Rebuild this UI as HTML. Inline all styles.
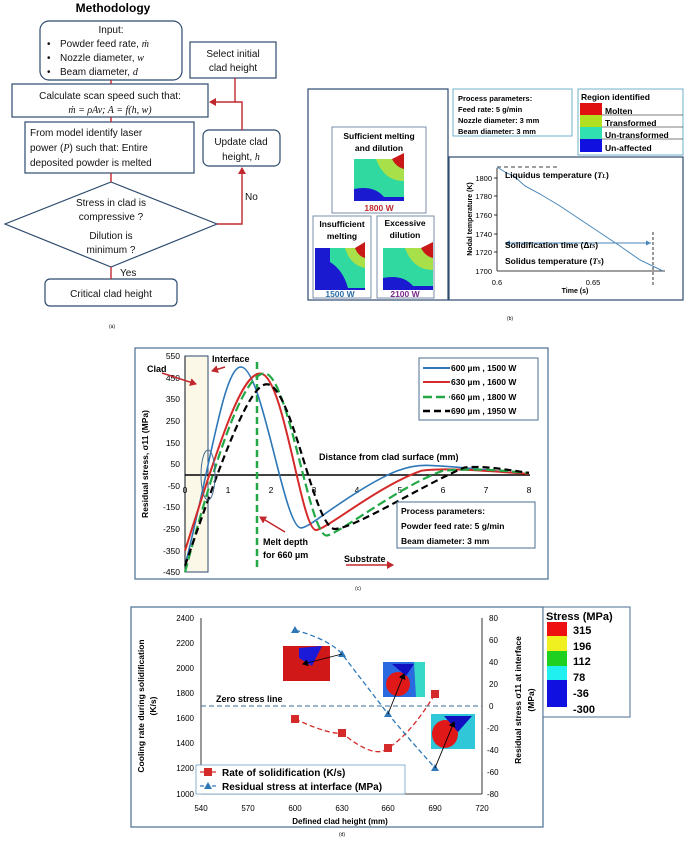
<!DOCTYPE html>
<html><head><meta charset="utf-8"><style>
body{margin:0;background:#fff;}
svg{display:block;font-family:"Liberation Sans",sans-serif;}
</style></head><body>
<svg width="685" height="841" viewBox="0 0 685 841" xmlns="http://www.w3.org/2000/svg">
<defs>
<marker id="ra" markerWidth="8" markerHeight="8" refX="6" refY="4" orient="auto" markerUnits="userSpaceOnUse"><path d="M0,0 L7,4 L0,8 z" fill="#c0282e"/></marker>
<marker id="ka" markerWidth="7" markerHeight="7" refX="5" refY="3.5" orient="auto" markerUnits="userSpaceOnUse"><path d="M0,0 L6,3.5 L0,7 z" fill="#000"/></marker>
<g id="sim">
<rect x="0" y="0" width="50" height="42" fill="#2fd9a0"/>
<path d="M22,0 L50,0 L50,22 Q30,22 22,0z" fill="#a8e04a"/>
<path d="M38,0 L50,-6 L50,10 Q42,8 38,0z" fill="#c81818"/>
<path d="M0,30 Q20,26 30,38 L50,38 L50,42 L0,42z" fill="#1a1ad0"/>
</g>
</defs>

<!-- ===== Panel (a) ===== -->
<text x="113" y="12" font-size="12" font-weight="bold" text-anchor="middle">Methodology</text>
<g fill="none" stroke="#2e4a6e" stroke-width="1.2">
<rect x="40" y="21" width="142" height="59" rx="9"/>
<rect x="190" y="42" width="86" height="36"/>
<rect x="12" y="84" width="196" height="33"/>
<rect x="25" y="122" width="169" height="51"/>
<rect x="203" y="130" width="77" height="36" rx="6"/>
<path d="M111,182 L217,224 L111,267 L5,224 Z"/>
<rect x="45" y="279" width="132" height="27" rx="5"/>
</g>
<g font-size="10" fill="#111">
<text x="111" y="33" text-anchor="middle">Input:</text>
<text x="47" y="47">•</text><text x="60" y="47">Powder feed rate, <tspan font-style="italic" font-family="Liberation Serif">ṁ</tspan></text>
<text x="47" y="61">•</text><text x="60" y="61">Nozzle diameter, <tspan font-style="italic" font-family="Liberation Serif">w</tspan></text>
<text x="47" y="75">•</text><text x="60" y="75">Beam diameter, <tspan font-style="italic" font-family="Liberation Serif">d</tspan></text>
<text x="233" y="57" text-anchor="middle">Select initial</text>
<text x="233" y="71" text-anchor="middle">clad height</text>
<text x="110" y="99" text-anchor="middle">Calculate scan speed such that:</text>
<text x="110" y="113" text-anchor="middle" font-family="Liberation Serif" font-style="italic">ṁ = ρAv; A = f(h, w)</text>
<text x="30" y="136">From model identify laser</text>
<text x="30" y="151">power (<tspan font-style="italic" font-family="Liberation Serif">P</tspan>) such that: Entire</text>
<text x="30" y="166">deposited powder is melted</text>
<text x="241" y="145" text-anchor="middle">Update clad</text>
<text x="241" y="160" text-anchor="middle">height, <tspan font-style="italic" font-family="Liberation Serif">h</tspan></text>
<text x="111" y="206" text-anchor="middle">Stress in clad is</text>
<text x="111" y="220" text-anchor="middle">compressive ?</text>
<text x="111" y="239" text-anchor="middle">Dilution is</text>
<text x="111" y="253" text-anchor="middle">minimum ?</text>
<text x="111" y="297" text-anchor="middle">Critical clad height</text>
<text x="245" y="200">No</text>
<text x="120" y="276">Yes</text>
</g>
<g stroke="#c0282e" stroke-width="1.4" fill="none">
<line x1="111" y1="80" x2="111" y2="84"/>
<line x1="111" y1="117" x2="111" y2="122"/>
<line x1="111" y1="173" x2="111" y2="182"/>
<line x1="111" y1="267" x2="111" y2="279"/>
<path d="M217,224 L242,224 L242,168" marker-end="url(#ra)"/>
<path d="M242,130 L242,102 L210,102" marker-end="url(#ra)"/>
<line x1="235" y1="78" x2="235" y2="102"/>
</g>
<text x="112" y="328" font-size="5" text-anchor="middle">(a)</text>

<!-- ===== Panel (b) ===== -->
<g fill="none" stroke="#2e4a6e" stroke-width="1.2">
<rect x="308" y="89" width="140" height="211"/>
<rect x="449" y="157" width="234" height="143"/>
</g>
<g fill="#fff" stroke="#7a8ea8" stroke-width="1">
<rect x="332" y="127" width="94" height="86"/>
<rect x="313" y="216" width="58" height="82"/>
<rect x="377" y="216" width="57" height="82"/>
<rect x="453" y="89" width="119" height="47" stroke="#6fb0c8"/>
<rect x="578" y="89" width="105" height="66" stroke="#6fb0c8"/>
</g>
<g font-size="8.5" font-weight="bold" text-anchor="middle">
<text x="379" y="139">Sufficient melting</text>
<text x="379" y="151">and dilution</text>
<text x="342" y="227">Insufficient</text>
<text x="342" y="239">melting</text>
<text x="405" y="226">Excessive</text>
<text x="405" y="238">dilution</text>
<text x="379" y="211" fill="#c0282e">1800 W</text>
<text x="340" y="297" fill="#2e6fa8">1500 W</text>
<text x="405" y="297" fill="#7a2a8a">2100 W</text>
</g>
<use href="#sim" transform="translate(354,159)"/>
<rect x="315" y="248" width="50" height="42" fill="#1a1ad0"/>
<path d="M330,248 L365,248 L365,288 L348,288 Q343,270 330,262z" fill="#2fd9a0"/>
<path d="M345,248 L365,248 L365,268 Q350,265 345,248z" fill="#a8e04a"/>
<path d="M355,248 L365,242 L365,258 Q358,256 355,248z" fill="#c81818"/>
<use href="#sim" transform="translate(383,248)"/>
<g font-size="7.5" font-weight="bold">
<text x="458" y="101">Process parameters:</text>
<text x="458" y="112">Feed rate: 5 g/min</text>
<text x="458" y="123">Nozzle diameter: 3 mm</text>
<text x="458" y="134">Beam diameter: 3 mm</text>
<text x="581" y="100" font-size="8.5">Region identified</text>
</g>
<rect x="580" y="103" width="22" height="12" fill="#e01010"/>
<rect x="580" y="115" width="22" height="12" fill="#b0e020"/>
<rect x="580" y="127" width="22" height="12" fill="#30e0b0"/>
<rect x="580" y="139" width="22" height="13" fill="#1010e0"/>
<g font-size="8.5" font-weight="bold">
<text x="605" y="114">Molten</text><line x1="602" y1="115" x2="683" y2="115" stroke="#000" stroke-width=".6"/>
<text x="605" y="126">Transformed</text><line x1="602" y1="127" x2="683" y2="127" stroke="#000" stroke-width=".6"/>
<text x="605" y="138">Un-transformed</text><line x1="602" y1="139" x2="683" y2="139" stroke="#000" stroke-width=".6"/>
<text x="605" y="151">Un-affected</text>
</g>
<!-- chart b -->
<g stroke="#000" stroke-width=".8" fill="none">
<line x1="497" y1="168" x2="497" y2="271"/>
<line x1="497" y1="271" x2="665" y2="271"/>
<line x1="494" y1="178" x2="497" y2="178"/><line x1="494" y1="196" x2="497" y2="196"/><line x1="494" y1="215" x2="497" y2="215"/><line x1="494" y1="234" x2="497" y2="234"/><line x1="494" y1="252" x2="497" y2="252"/>
<line x1="497" y1="167" x2="560" y2="167" stroke-dasharray="4,3"/>
<line x1="653" y1="232" x2="653" y2="285" stroke-dasharray="3,2"/>
</g>
<path d="M497,167 L505,172 L515,177 L525,186 L540,194 L560,206 L590,226 L620,246 L640,260 L663,271" fill="none" stroke="#4a86b8" stroke-width="1"/>
<line x1="505" y1="243" x2="651" y2="243" stroke="#4a86b8" stroke-width="1"/>
<path d="M505,243 l5,-2.5 v5z M651,243 l-5,-2.5 v5z" fill="#4a86b8"/>
<g font-size="7.5" text-anchor="end">
<text x="492" y="181">1800</text><text x="492" y="199">1780</text><text x="492" y="218">1760</text><text x="492" y="237">1740</text><text x="492" y="255">1720</text><text x="492" y="274">1700</text>
</g>
<g font-size="7.5" text-anchor="middle"><text x="497" y="285">0.6</text><text x="593" y="285">0.65</text></g>
<text x="575" y="293" font-size="7" font-weight="bold" text-anchor="middle">Time (s)</text>
<text transform="translate(472,219) rotate(-90)" font-size="7" font-weight="bold" text-anchor="middle">Nodal temperature (K)</text>
<g font-size="8.5" font-weight="bold">
<text x="505" y="178">Liquidus temperature (<tspan font-style="italic" font-family="Liberation Serif">T<tspan font-size="6">L</tspan></tspan>)</text>
<text x="505" y="248">Solidification time (Δ<tspan font-style="italic" font-family="Liberation Serif">t<tspan font-size="6">S</tspan></tspan>)</text>
<text x="505" y="264">Solidus temperature (<tspan font-style="italic" font-family="Liberation Serif">T<tspan font-size="6">S</tspan></tspan>)</text>
</g>
<text x="510" y="320" font-size="5" text-anchor="middle">(b)</text>

<!-- ===== Panel (c) ===== -->
<rect x="135" y="348" width="413" height="231" fill="#fff" stroke="#4a6e92" stroke-width="1.2"/>
<rect x="185" y="356" width="23" height="216" fill="#fbf8e8" stroke="#2e4a6e" stroke-width="1"/>
<line x1="185" y1="356" x2="185" y2="572" stroke="#000" stroke-width=".8"/>
<line x1="185" y1="475" x2="530" y2="475" stroke="#000" stroke-width="1.5"/>
<g font-size="8.5" text-anchor="end">
<text x="180" y="359">550</text><text x="180" y="381">450</text><text x="180" y="402">350</text><text x="180" y="424">250</text><text x="180" y="446">150</text><text x="180" y="467">50</text><text x="180" y="489">-50</text><text x="180" y="510">-150</text><text x="180" y="532">-250</text><text x="180" y="554">-350</text><text x="180" y="575">-450</text>
</g>
<g font-size="8.5" text-anchor="middle">
<text x="185" y="493">0</text><text x="228" y="493">1</text><text x="271" y="493">2</text><text x="314" y="493">3</text><text x="357" y="493">4</text><text x="400" y="493">5</text><text x="443" y="493">6</text><text x="486" y="493">7</text><text x="529" y="493">8</text>
</g>
<text transform="translate(148,464) rotate(-90)" font-size="8.5" font-weight="bold" text-anchor="middle">Residual stress, σ11 (MPa)</text>
<line x1="257" y1="362" x2="257" y2="569" stroke="#22a845" stroke-width="2.5" stroke-dasharray="7,4"/>
<g transform="translate(185,475) scale(43,-0.216)" fill="none" stroke-width="1.6">
<path vector-effect="non-scaling-stroke" stroke="#2e78b8" d="M0,-420 C0.6,50 0.9,500 1.3,500 C1.8,500 2.3,-250 2.7,-245 C2.9,-240 3.2,-180 4,-80 C4.8,20 5.2,45 5.6,45 C6.5,40 7.5,10 8,5"/>
<path vector-effect="non-scaling-stroke" stroke="#d42a2a" stroke-width="2" d="M0,-350 C0.8,150 1.3,470 1.75,470 C2.3,470 2.7,-260 3.05,-255 C3.3,-250 4.5,-50 5.5,20 C6,35 7,20 8,5"/>
<path vector-effect="non-scaling-stroke" stroke="#22a845" stroke-width="2.2" stroke-dasharray="9,4" d="M0,-450 C0.8,150 1.4,470 1.85,470 C2.4,470 2.9,-290 3.3,-280 C3.6,-270 5,-50 6,20 C7,35 7.5,15 8,10"/>
<path vector-effect="non-scaling-stroke" stroke="#000" stroke-width="2.2" stroke-dasharray="7,4" d="M0,-420 C0.9,100 1.5,420 1.9,420 C2.5,420 3,-260 3.5,-250 C4,-240 5.5,-50 6.5,35 C7,45 7.6,20 8,10"/>
</g>
<ellipse cx="208" cy="475" rx="7" ry="25" fill="none" stroke="#4a6e92" stroke-width="1"/>
<g font-size="9" font-weight="bold">
<text x="147" y="372">Clad</text>
<text x="212" y="362">Interface</text>
<text x="319" y="460">Distance from clad surface (mm)</text>
<text x="263" y="545">Melt depth</text>
<text x="263" y="558">for 660 µm</text>
<text x="344" y="562">Substrate</text>
</g>
<g stroke="#c0282e" stroke-width="1.5" fill="none">
<line x1="162" y1="373" x2="196" y2="384" marker-end="url(#ra)"/>
<line x1="225" y1="367" x2="212" y2="371" marker-end="url(#ra)"/>
<line x1="285" y1="532" x2="260" y2="517" marker-end="url(#ra)"/>
<line x1="346" y1="565" x2="393" y2="565" marker-end="url(#ra)"/>
</g>
<rect x="419" y="358" width="119" height="62" fill="#fff" stroke="#4a6e92" stroke-width="1"/>
<g stroke-width="2" fill="none">
<line x1="423" y1="368" x2="450" y2="368" stroke="#2e78b8"/>
<line x1="423" y1="382" x2="450" y2="382" stroke="#d42a2a"/>
<line x1="423" y1="397" x2="450" y2="397" stroke="#22a845" stroke-width="2.5" stroke-dasharray="9,4"/>
<line x1="423" y1="411" x2="450" y2="411" stroke="#000" stroke-width="2.5" stroke-dasharray="7,4"/>
</g>
<g font-size="8.5" font-weight="bold">
<text x="451" y="371">600 µm , 1500 W</text>
<text x="451" y="385">630 µm , 1600 W</text>
<text x="451" y="400">660 µm , 1800 W</text>
<text x="451" y="414">690 µm , 1950 W</text>
</g>
<rect x="397" y="502" width="138" height="46" fill="#fff" stroke="#4a6e92" stroke-width="1"/>
<g font-size="8.5" font-weight="bold">
<text x="401" y="514">Process parameters:</text>
<text x="401" y="529">Powder feed rate: 5 g/min</text>
<text x="401" y="544">Beam diameter: 3 mm</text>
</g>
<text x="358" y="590" font-size="5" text-anchor="middle">(c)</text>

<!-- ===== Panel (d) ===== -->
<rect x="131" y="607" width="412" height="220" fill="#fff" stroke="#4a6e92" stroke-width="1.2"/>
<rect x="543" y="607" width="87" height="110" fill="#fff" stroke="#4a6e92" stroke-width="1"/>
<text x="546" y="620" font-size="11" font-weight="bold">Stress (MPa)</text>
<rect x="547" y="622" width="20" height="14" fill="#ee1010"/>
<rect x="547" y="636" width="20" height="15" fill="#f0f020"/>
<rect x="547" y="651" width="20" height="15" fill="#20d020"/>
<rect x="547" y="666" width="20" height="14" fill="#20f0f0"/>
<rect x="547" y="680" width="20" height="27" fill="#1010e0"/>
<g font-size="11" font-weight="bold">
<text x="573" y="634">315</text><text x="573" y="650">196</text><text x="573" y="665">112</text><text x="573" y="681">78</text><text x="573" y="697">-36</text><text x="573" y="713">-300</text>
</g>
<g stroke="#000" stroke-width=".8">
<line x1="201" y1="618" x2="201" y2="794"/>
<line x1="482" y1="618" x2="482" y2="794"/>
<line x1="201" y1="794" x2="482" y2="794"/>
</g>
<g font-size="8" text-anchor="end">
<text x="194" y="621">2400</text><text x="194" y="646">2200</text><text x="194" y="671">2000</text><text x="194" y="696">1800</text><text x="194" y="721">1600</text><text x="194" y="746">1400</text><text x="194" y="771">1200</text><text x="194" y="797">1000</text>
</g>
<g font-size="8">
<text x="489" y="621">80</text><text x="489" y="643">60</text><text x="489" y="665">40</text><text x="489" y="687">20</text><text x="489" y="709">0</text><text x="487" y="731">-20</text><text x="487" y="753">-40</text><text x="487" y="775">-60</text><text x="487" y="797">-80</text>
</g>
<g font-size="8" text-anchor="middle">
<text x="201" y="811">540</text><text x="248" y="811">570</text><text x="295" y="811">600</text><text x="342" y="811">630</text><text x="388" y="811">660</text><text x="435" y="811">690</text><text x="482" y="811">720</text>
</g>
<text x="340" y="824" font-size="8" font-weight="bold" text-anchor="middle">Defined clad height (mm)</text>
<text transform="translate(144,706) rotate(-90)" font-size="8.5" font-weight="bold" text-anchor="middle">Cooling rate during solidification</text>
<text transform="translate(156,706) rotate(-90)" font-size="8.5" font-weight="bold" text-anchor="middle">(K/s)</text>
<text transform="translate(521,700) rotate(-90)" font-size="8.5" font-weight="bold" text-anchor="middle">Residual stress σ11 at interface</text>
<text transform="translate(534,700) rotate(-90)" font-size="8.5" font-weight="bold" text-anchor="middle">(MPa)</text>
<line x1="201" y1="706" x2="482" y2="706" stroke="#3a6e9a" stroke-width="1" stroke-dasharray="5,3"/>
<text x="216" y="702" font-size="9" font-weight="bold">Zero stress line</text>
<!-- sim cubes -->
<g>
<rect x="283" y="646" width="47" height="35" fill="#d01818"/>
<path d="M299,648 L322,646 L312,666 L299,658z" fill="#1a1ad8"/>
<rect x="383" y="662" width="42" height="35" fill="#2a6ae0"/>
<ellipse cx="398" cy="684" rx="12" ry="12" fill="#e01818"/>
<path d="M414,662 L425,662 L425,697 L416,697z" fill="#38d8c8"/>
<path d="M392,664 L414,664 L406,676z" fill="#1010c0"/>
<rect x="431" y="714" width="44" height="35" fill="#30c8d8"/>
<ellipse cx="445" cy="734" rx="13" ry="14" fill="#e01818"/>
<path d="M444,716 L472,716 L458,732z" fill="#1010c0"/>
</g>
<path d="M295,719 Q330,735 342,733 Q375,760 388,748 Q410,735 435,694" fill="none" stroke="#d42a2a" stroke-width="1.3" stroke-dasharray="5,3"/>
<path d="M295,630 Q330,640 342,654 L388,714 Q410,740 435,768" fill="none" stroke="#2e78b8" stroke-width="1.3" stroke-dasharray="5,3"/>
<g fill="#d42a2a"><rect x="291" y="715" width="8" height="8"/><rect x="338" y="729" width="8" height="8"/><rect x="384" y="744" width="8" height="8"/><rect x="431" y="690" width="8" height="8"/></g>
<g fill="#2e78b8"><path d="M295,626 l4,7 h-8z"/><path d="M342,650 l4,7 h-8z"/><path d="M388,710 l4,7 h-8z"/><path d="M435,764 l4,7 h-8z"/></g>
<g stroke="#000" stroke-width=".9" fill="none">
<line x1="342" y1="654" x2="303" y2="664" marker-end="url(#ka)"/>
<line x1="388" y1="714" x2="404" y2="674" marker-end="url(#ka)"/>
<line x1="435" y1="768" x2="454" y2="722" marker-end="url(#ka)"/>
</g>
<rect x="196" y="765" width="209" height="29" fill="#fff" stroke="#6fa0c8" stroke-width=".8"/>
<line x1="200" y1="772" x2="216" y2="772" stroke="#d42a2a" stroke-width="1.3" stroke-dasharray="4,2"/><rect x="204" y="768" width="8" height="8" fill="#d42a2a"/>
<line x1="200" y1="786" x2="216" y2="786" stroke="#2e78b8" stroke-width="1.3" stroke-dasharray="4,2"/><path d="M208,782 l4,7 h-8z" fill="#2e78b8"/>
<g font-size="10" font-weight="bold"><text x="222" y="776">Rate of solidification (K/s)</text><text x="222" y="790">Residual stress at interface (MPa)</text></g>
<text x="342" y="836" font-size="5" text-anchor="middle">(d)</text>
</svg>
</body></html>
